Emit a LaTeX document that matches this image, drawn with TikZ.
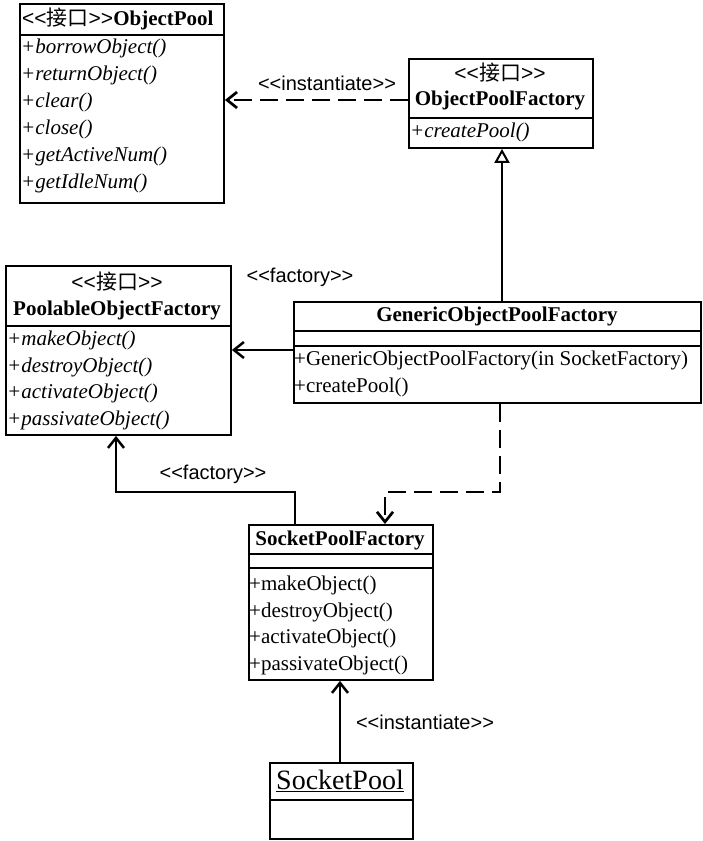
\documentclass[tikz,border=0pt]{standalone}
\usepackage{fontspec}
\setmainfont{Liberation Serif}
\newfontfamily\lsans{Liberation Sans}
\newfontfamily\cjk{Noto Sans CJK SC}
\usetikzlibrary{arrows.meta}
\newcommand\stereo[1]{{\lsans\textless\textless}{\cjk #1}{\lsans\textgreater\textgreater}}
\newcommand\lblst[1]{\textless\textless #1\textgreater\textgreater}
\tikzset{
  cls/.style={draw, line width=1.9pt, inner sep=0pt, anchor=north west},
  divider/.style={line width=1.6pt},
  txt/.style={inner sep=0pt, font=\fontsize{21}{25}\selectfont},
  mth/.style={txt, anchor=west},
  imth/.style={inner sep=0pt, anchor=west, font=\fontsize{21}{25}\selectfont\itshape},
  ttl/.style={inner sep=0pt, font=\fontsize{21}{25}\selectfont\bfseries},
  lbl/.style={inner sep=0pt, font=\lsans\fontsize{20}{24}\selectfont},
  dashline/.style={line width=2.7pt, dash pattern=on 18pt off 8pt},
  conn/.style={line width=2.5pt},
  barb/.style={-{Straight Barb[length=10pt,width=16pt]}},
  gen/.style={-{Triangle[open,length=14pt,width=15pt,line width=2pt]}}
}
\begin{document}
\begin{tikzpicture}[x=1pt,y=-1pt]
\useasboundingbox (0,0) rectangle (703,841);

% ---------- ObjectPool ----------
\node[cls, minimum width=204pt, minimum height=199pt] (op) at (19,3) {};
\coordinate (opd) at (0,35);
\draw[divider] (op.west |- opd) -- (op.east |- opd);
\node[txt, anchor=west] (opt) at (22,19) {\stereo{接口}\textbf{ObjectPool}};
\node[imth] (op1) at (21,48)  {+borrowObject()};
\node[imth] (op2) at (21,75)  {+returnObject()};
\node[imth] (op3) at (21,102) {+clear()};
\node[imth] (op4) at (21,129) {+close()};
\node[imth] (op5) at (21,156) {+getActiveNum()};
\node[imth] (op6) at (21,183) {+getIdleNum()};

% ---------- ObjectPoolFactory ----------
\node[cls, minimum width=184pt, minimum height=89pt] (opf) at (408,58) {};
\coordinate (opfd) at (0,118);
\draw[divider] (opf.west |- opfd) -- (opf.east |- opfd);
\node[txt] (opfs) at (500,73) {\stereo{接口}};
\node[ttl] (opft) at (500,100) {ObjectPoolFactory};
\node[imth] (opf1) at (410,132) {+createPool()};

% ---------- PoolableObjectFactory ----------
\node[cls, minimum width=225pt, minimum height=169pt] (pof) at (5,265) {};
\coordinate (pofd) at (0,326);
\draw[divider] (pof.west |- pofd) -- (pof.east |- pofd);
\node[txt] (pofs) at (117,282) {\stereo{接口}};
\node[ttl] (poft) at (117,310) {PoolableObjectFactory};
\node[imth] (pof1) at (7,340) {+makeObject()};
\node[imth] (pof2) at (7,367) {+destroyObject()};
\node[imth] (pof3) at (7,393) {+activateObject()};
\node[imth] (pof4) at (7,420) {+passivateObject()};

% ---------- GenericObjectPoolFactory ----------
\node[cls, minimum width=407pt, minimum height=101pt] (gof) at (293,301) {};
\coordinate (gofd1) at (0,331);
\coordinate (gofd2) at (0,346);
\draw[divider] (gof.west |- gofd1) -- (gof.east |- gofd1);
\draw[divider] (gof.west |- gofd2) -- (gof.east |- gofd2);
\node[ttl] (goft) at (497,316) {GenericObjectPoolFactory};
\node[mth] (gof1) at (294,360) {+GenericObjectPoolFactory(in SocketFactory)};
\node[mth] (gof2) at (294,387) {+createPool()};

% ---------- SocketPoolFactory ----------
\node[cls, minimum width=184pt, minimum height=155pt] (spf) at (248,524) {};
\coordinate (spfd1) at (0,554);
\coordinate (spfd2) at (0,568);
\draw[divider] (spf.west |- spfd1) -- (spf.east |- spfd1);
\draw[divider] (spf.west |- spfd2) -- (spf.east |- spfd2);
\node[ttl] (spft) at (340,540) {SocketPoolFactory};
\node[mth] (spf1) at (249,585) {+makeObject()};
\node[mth] (spf2) at (249,612) {+destroyObject()};
\node[mth] (spf3) at (249,638) {+activateObject()};
\node[mth] (spf4) at (249,665) {+passivateObject()};

% ---------- SocketPool ----------
\node[cls, minimum width=143pt, minimum height=76pt] (sp) at (269,762) {};
\coordinate (spd) at (0,800);
\draw[divider] (sp.west |- spd) -- (sp.east |- spd);
\node[inner sep=0pt, font=\fontsize{28}{32}\selectfont] (spt) at (340,781) {\underline{SocketPool}};

% ---------- connectors ----------
\draw[dashline, barb] (opf.west |- opft) -- (op.east |- opft);
\node[lbl] (l1) at (327,83) {\lblst{instantiate}};

\coordinate (gx) at (502,0);
\draw[conn, gen] (gof.north -| gx) -- (opf.south -| gx);

\coordinate (fy) at (0,350);
\draw[conn, barb] (gof.west |- fy) -- (pof.east |- fy);
\node[lbl] (l2) at (300,277) {\lblst{factory}};

\coordinate (dx) at (500,0);
\coordinate (dbend) at (385,492);
\draw[dashline, barb] (gof.south -| dx) |- (dbend) -- (spf.north -| dbend);

\coordinate (fx) at (295,0);
\coordinate (fbend) at (116,492);
\draw[conn, barb] (spf.north -| fx) |- (fbend) -- (pof.south -| fbend);
\node[lbl] (l3) at (213,474) {\lblst{factory}};

\coordinate (ix) at (340,0);
\draw[conn, barb] (sp.north -| ix) -- (spf.south -| ix);
\node[lbl] (l4) at (425,722) {\lblst{instantiate}};
\end{tikzpicture}
\end{document}
